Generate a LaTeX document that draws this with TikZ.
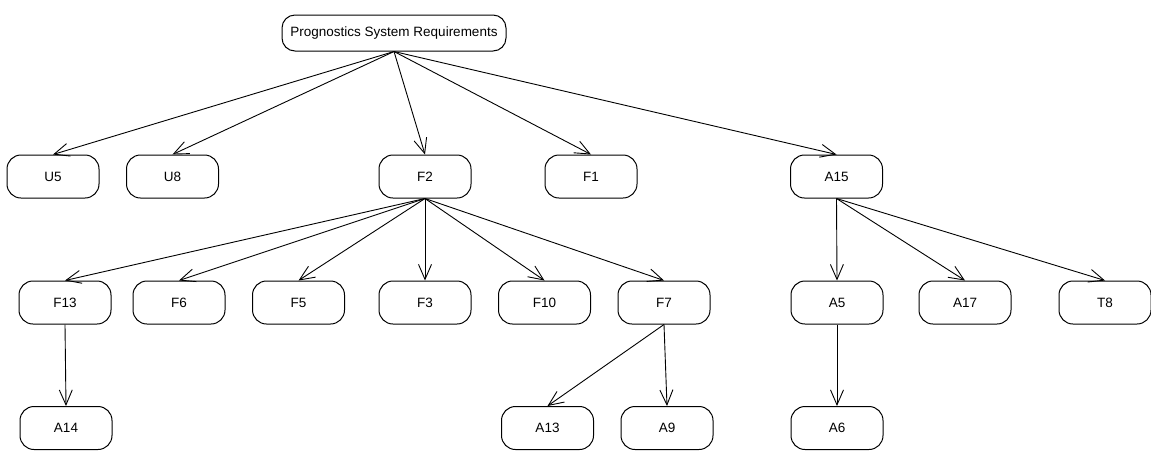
\documentclass[tikz,border=0pt]{standalone}
\usepackage{fontspec}
\setmainfont{Liberation Sans}
\usetikzlibrary{arrows.meta}
\begin{document}
\begin{tikzpicture}[x=1pt,y=-1pt,
  req/.style={draw, line width=1pt, rounded corners=14pt, minimum width=92pt,
    minimum height=43pt, inner sep=0pt, font=\fontsize{13.5}{16}\selectfont},
  rootbox/.style={req, minimum width=224pt, minimum height=36pt, rounded corners=13pt},
  link/.style={line width=0.9pt, -{Straight Barb[length=15pt,width=13pt,line width=0.9pt]}}]
\useasboundingbox (0,0) rectangle (1151,451);
% root
\node[rootbox] (root) at (394,33) {Prognostics System Requirements};
% first level
\node[req] (u5)  at (53,176.5)  {U5};
\node[req] (u8)  at (172.5,176.5) {U8};
\node[req] (f2)  at (425,176.5) {F2};
\node[req] (f1)  at (591,176.5) {F1};
\node[req] (a15) at (836.5,176.5) {A15};
% second level
\node[req] (f13) at (65,302.5)  {F13};
\node[req] (f6)  at (179,302.5) {F6};
\node[req] (f5)  at (298.5,302.5) {F5};
\node[req] (f3)  at (425,302.5) {F3};
\node[req] (f10) at (544.5,302.5) {F10};
\node[req] (f7)  at (664,302.5) {F7};
\node[req] (a5)  at (837,302.5) {A5};
\node[req] (a17) at (965,302.5) {A17};
\node[req] (t8)  at (1105,302.5) {T8};
% third level
\node[req] (a14) at (66,428)   {A14};
\node[req] (a13) at (547.5,428) {A13};
\node[req] (a9)  at (667,428)  {A9};
\node[req] (a6)  at (837,428)  {A6};
% links
\foreach \c in {u5,u8,f2,f1,a15} \draw[link] (root.south) -- (\c.north);
\foreach \c in {f13,f6,f5,f3,f10,f7} \draw[link] (f2.south) -- (\c.north);
\foreach \c in {a5,a17,t8} \draw[link] (a15.south) -- (\c.north);
\draw[link] (f13.south) -- (a14.north);
\draw[link] (f7.south) -- (a13.north);
\draw[link] (f7.south) -- (a9.north);
\draw[link] (a5.south) -- (a6.north);
\end{tikzpicture}
\end{document}
